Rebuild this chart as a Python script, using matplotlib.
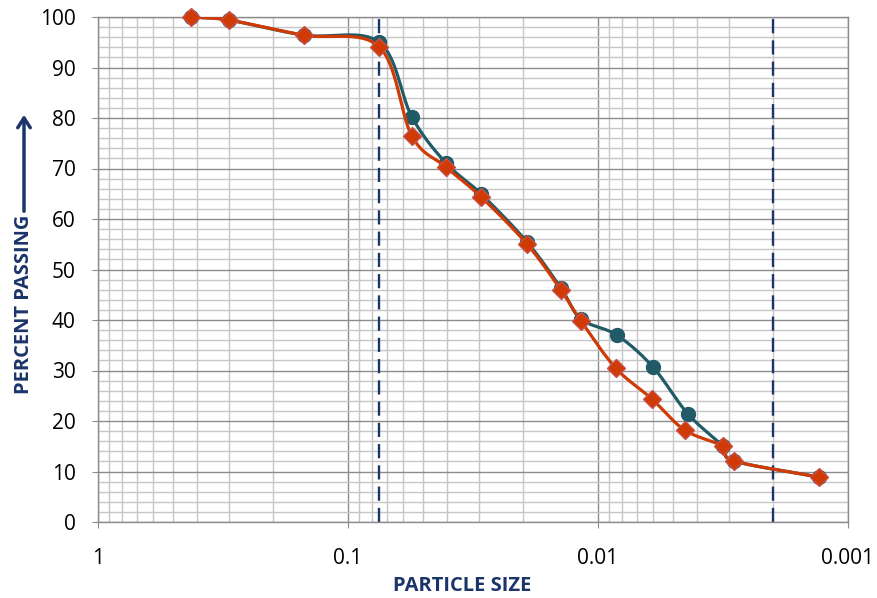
import numpy as np
import matplotlib.pyplot as plt
from matplotlib.ticker import LogLocator, MultipleLocator, FixedLocator, FixedFormatter

plt.rcParams['font.family'] = ['Open Sans', 'DejaVu Sans']

# particle size (mm) and percent passing
size_a = [0.425, 0.3, 0.15, 0.075, 0.0555, 0.0406, 0.0294, 0.0192, 0.01406, 0.0117,
          0.0084, 0.00603, 0.00437, 0.00316, 0.00286, 0.00131]
pass_a = [100, 99.4, 96.4, 95.0, 80.2, 71.1, 65.0, 55.4, 46.3, 40.2,
          37.0, 30.7, 21.4, 15.0, 12.1, 8.9]

size_b = [0.425, 0.3, 0.15, 0.075, 0.0555, 0.0406, 0.0294, 0.0192, 0.01406, 0.0117,
          0.0085, 0.0061, 0.0045, 0.00316, 0.00286, 0.00131]
pass_b = [100, 99.4, 96.4, 94.1, 76.4, 70.3, 64.4, 55.0, 45.9, 39.8,
          30.5, 24.4, 18.2, 15.0, 12.1, 8.9]

limits = [0.075, 0.002]
xticks = [1, 0.1, 0.01, 0.001]
xlabels = ['1', '0.1', '0.01', '0.001']

NAVY = '#1b3469'
TEAL = '#215b68'
ORANGE = '#cf3a05'


def smooth(xs, ys, n=30):
    # catmull-rom in log-x space, like excel's smoothed line
    lx = np.log10(xs)
    y = np.asarray(ys, float)
    px = np.concatenate([[2 * lx[0] - lx[1]], lx, [2 * lx[-1] - lx[-2]]])
    py = np.concatenate([[2 * y[0] - y[1]], y, [2 * y[-1] - y[-2]]])
    ox, oy = [], []
    t = np.linspace(0, 1, n)
    for i in range(1, len(px) - 2):
        p0, p1, p2, p3 = px[i-1], px[i], px[i+1], px[i+2]
        q0, q1, q2, q3 = py[i-1], py[i], py[i+1], py[i+2]
        for arr, a0, a1, a2, a3 in ((ox, p0, p1, p2, p3), (oy, q0, q1, q2, q3)):
            arr.extend(0.5 * ((2 * a1) + (-a0 + a2) * t + (2 * a0 - 5 * a1 + 4 * a2 - a3) * t ** 2
                              + (-a0 + 3 * a1 - 3 * a2 + a3) * t ** 3))
    return 10 ** np.array(ox), np.array(oy)


fig = plt.figure(figsize=(8.78, 5.98), dpi=100)
ax = fig.add_axes([98 / 878, 1 - 522 / 598, 750 / 878, 505 / 598])

ax.set_xscale('log')
ax.set_xlim(1, 0.001)
ax.set_ylim(0, 100)

ax.xaxis.set_major_locator(FixedLocator(xticks))
ax.xaxis.set_major_formatter(FixedFormatter(xlabels))
ax.xaxis.set_minor_locator(LogLocator(base=10, subs=np.arange(2, 10), numticks=20))
ax.yaxis.set_major_locator(MultipleLocator(10))
ax.yaxis.set_minor_locator(MultipleLocator(2))

ax.grid(which='major', color='#8c8c8c', lw=1.0)
ax.grid(which='minor', color='#c6c6c6', lw=1.0)
ax.set_axisbelow(True)
for s in ax.spines.values():
    s.set_color('#8c8c8c')
    s.set_linewidth(1.0)

ax.tick_params(which='major', length=4, color='#8c8c8c', labelsize=15, labelcolor='black')
ax.tick_params(axis='y', which='major', pad=12)
ax.tick_params(axis='x', which='major', pad=15)
ax.tick_params(which='minor', length=0)

for v in limits:
    ax.axvline(v, color=NAVY, lw=1.7, ls=(0, (6, 3)), zorder=2)

sx, sy = smooth(size_a, pass_a)
ax.plot(sx, sy, color=TEAL, lw=2.3, zorder=3)
ax.plot(size_a, pass_a, 'o', ms=10, color=TEAL, zorder=4, clip_on=False)

sx, sy = smooth(size_b, pass_b)
ax.plot(sx, sy, color=ORANGE, lw=2.3, zorder=5)
ax.plot(size_b, pass_b, 'D', ms=9, mfc=ORANGE, mec='#c8504a', mew=1, zorder=6, clip_on=False)

fig.text(462 / 878, 1 - 586 / 598, 'PARTICLE SIZE', ha='center', va='center',
         fontsize=14.5, fontweight='bold', color=NAVY)
fig.text(24 / 878, 1 - 304 / 598, 'PERCENT PASSING', ha='center', va='center',
         rotation=90, fontsize=14.5, fontweight='bold', color=NAVY)
ax.annotate('', xy=(24 / 878, 1 - 112 / 598), xytext=(24 / 878, 1 - 214 / 598),
            xycoords='figure fraction', textcoords='figure fraction',
            arrowprops=dict(arrowstyle='->,head_length=0.7,head_width=0.45', color=NAVY, lw=2.5))

fig.savefig('out.png', dpi=100)
